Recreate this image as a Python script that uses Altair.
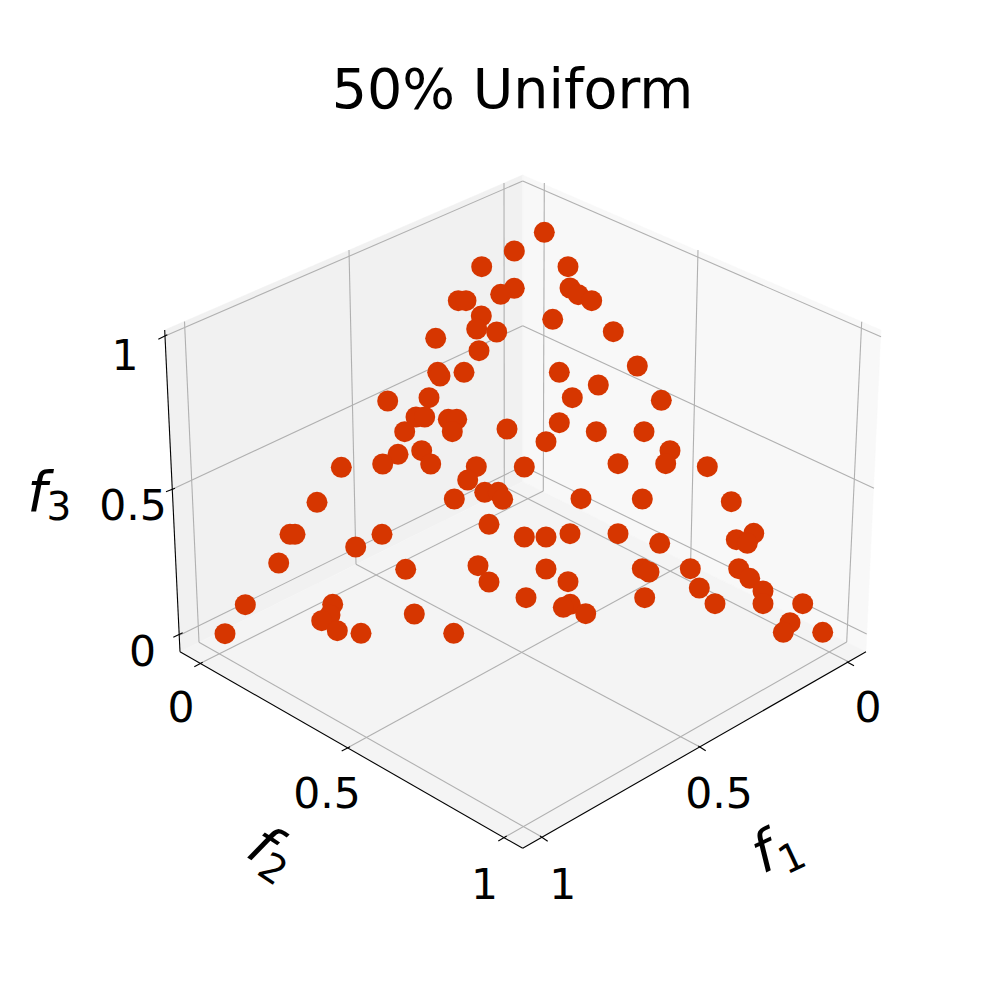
import altair as alt
import pandas as pd

# Marker positions (projected position on the page)
point_u = [514.3,481.7,514.3,500.7,458.3,466,481.3,476.7,496.7,435.7,479,437.7,440,464,387.7,429,416,424.7,448.3,456.7,452.3,404.7,507,
           544.3,568,570,578.3,591.7,552.7,613.3,637.3,559.3,598.3,572.3,661.3,559.3,596.3,644,546,
           398,382.7,421.7,430.7,341.3,476.3,467.7,454.3,484.7,498.3,502.7,317,489,524.3,290,295,382,355.7,278.7,405.7,478,489,245.3,332.7,330,321.7,337.3,361,414.3,453.7,225,
           581,618,642.3,670,665.7,707.3,731.3,524.3,546,570,618,659.7,736.3,753.7,747.3,546,568,642.3,649,690.3,738.7,749.7,763,699.3,715,763,802.7,526,570.3,563.3,585.7,644.7,790,783.3,822.7]
point_v = [251,266.7,288.3,294.3,300.7,300.7,316,329,332,338.3,350.7,372.3,376,372.3,401,397.7,417,417,419.3,419.3,431.7,431.7,429,
           232.3,266.7,288,294.7,300.7,319.3,331.7,366,372.3,385,397.7,400.3,422.7,431.7,431.7,441.7,
           454.3,464,450.7,464,467.3,466.7,480,499,492.3,492.3,499.3,502.3,524.3,467,534.3,534.3,534.3,547,563,569.3,565.7,582,604.7,604.3,615,620.7,630.7,633.3,614,633.3,633.7,
           498.7,463.7,499,450.7,463.7,466.7,501.7,537,537,533.7,533.7,543.3,539.7,533.3,543.3,569,581.7,568.7,572,568.7,568.7,578.3,591,588,603.7,603.7,603.7,597.7,604.3,607.3,613.7,597.7,622.7,632.3,632.3]

# Box outline
wall_left = [(164.7,330),(522.7,175),(522.7,481.7),(180,651.7)]
wall_right = [(522.7,175),(881,330),(866,651.7),(522.7,481.7)]
floor = [(180,651.7),(522.7,481.7),(866,651.7),(522.7,848.3)]

grid_segments = [
    (184.5,321.5,199,642.3),(349,250,356,564.3),(504,183,504.3,486.7),
    (544.3,183,543.3,491),(698,250,690.7,560),(861.7,321.7,846.7,642),
    (165,336,522.7,181),(522.7,181,881,336.7),
    (170.7,490,522.7,325.7),(522.7,325.7,874,488.3),
    (180,635,522.7,466),(522.7,466,866.7,634),
    (199,642.3,541,836.5),(356,564.3,700,747),(504.3,486.7,848,661.5),
    (846.7,642,505,837),(690.7,560,349,747),(543.3,491,201,663),
]
axis_segments = [
    (180,651.7,522.7,848.3),(866,651.7,522.7,848.3),(180,651.7,164.7,330),
    (846.7,661.7,854,665.7),(698.3,746,705.7,750.7),(540,836,547.7,841.3),
    (194.3,666.7,202.7,662.3),(341.7,751,350,746.7),(498.3,841,506.7,836),
    (173.3,637.3,182.7,632.7),(166,491.7,175,488.3),(158.3,339.3,167.3,334.7),
]
tick_labels = [
    ("0",868,722),("0.5",719,808),("1",562.7,899.3),
    ("0",181,722),("0.5",327,808),("1",484.5,899.3),
    ("0",142.5,665.7),("0.5",133,520),("1",125,370),
]

SIDE = 984
x_scale = alt.Scale(domain=[8, 992], range=[0, SIDE], nice=False, zero=False)
y_scale = alt.Scale(domain=[992, 8], range=[SIDE, 0], nice=False, zero=False)
X = lambda f="x": alt.X(f, type="quantitative", scale=x_scale, axis=None)
Y = lambda f="y": alt.Y(f, type="quantitative", scale=y_scale, axis=None)


def pane(corners, colour):
    df = pd.DataFrame([{"x": a, "y": b, "i": i} for i, (a, b) in enumerate(corners + corners[:1])])
    return alt.Chart(df).mark_line(fill=colour, stroke=colour, strokeWidth=0.5, interpolate="linear").encode(
        x=X(), y=Y(), order=alt.Order("i:Q"))


def segments(rows, colour, width):
    df = pd.DataFrame(rows, columns=["x", "y", "xe", "ye"])
    return alt.Chart(df).mark_rule(color=colour, strokeWidth=width).encode(
        x=X(), y=Y(), x2=alt.X2("xe"), y2=alt.Y2("ye"))


def label(text, u, v, size, angle=0, italic=False, baseline="alphabetic"):
    df = pd.DataFrame({"x": [u], "y": [v], "t": [text]})
    kw = {"angle": angle} if angle else {}
    if italic:
        kw["fontStyle"] = "italic"
    return alt.Chart(df).mark_text(font="DejaVu Sans", fontSize=size, color="black", align="center",
                                   baseline=baseline, **kw).encode(x=X(), y=Y(), text="t:N")


layers = [
    pane(wall_left, "#f1f1f1"),
    pane(wall_right, "#f8f8f8"),
    pane(floor, "#f4f4f4"),
    segments(grid_segments, "#b0b0b0", 1.1),
    segments(axis_segments, "black", 1.1),
    alt.Chart(pd.DataFrame({"x": point_u, "y": point_v})).mark_circle(
        size=441, color="#d63600", opacity=1).encode(x=X(), y=Y()),
    label("50% Uniform", 512.5, 108.3, 55.5),
]
layers += [label(t, a, b, 42.5) for t, a, b in tick_labels]
layers += [
    label("f", 37, 510.7, 56, italic=True),
    label("3", 59, 520, 39),
    label("f", 764.5, 854.5, 56, angle=335, italic=True, baseline="middle"),
    label("1", 792.5, 859, 39, angle=335, baseline="middle"),
    label("f", 261.5, 846.5, 56, angle=33, italic=True, baseline="middle"),
    label("2", 272.3, 870, 39, angle=33, baseline="middle"),
]

chart = alt.layer(*layers).properties(
    width=SIDE, height=SIDE, padding=0, autosize=alt.AutoSizeParams(type="none"), background="white"
).configure_view(stroke=None)

chart.save("out.html", embed_options={"renderer": "svg", "actions": False})
